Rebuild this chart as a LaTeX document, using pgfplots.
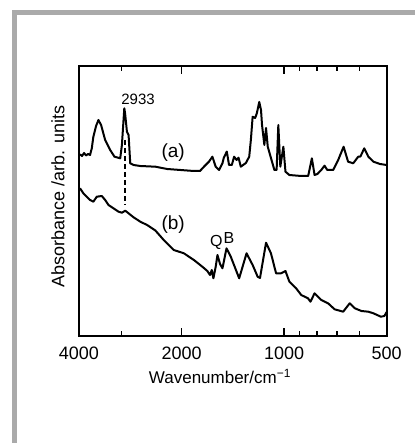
\documentclass[border=0pt]{standalone}
\usepackage{pgfplots}
\pgfplotsset{compat=1.18}
\usepackage{fontspec}
\setmainfont{Liberation Sans}
\definecolor{framegray}{RGB}{170,170,170}

\begin{document}
\begin{tikzpicture}
% page frame (1px = 1pt, origin at lower left of the axis box)
\path[use as bounding box] (-79pt,-107pt) rectangle (336pt,336pt);
\fill[framegray] (-67pt,-107pt) rectangle (-62pt,326pt);
\fill[framegray] (-67pt,326pt) rectangle (336pt,321pt);

\begin{axis}[
    scale only axis,
    width=307.7pt,
    height=270pt,
    xmode=log,
    x dir=reverse,
    xmin=500, xmax=4000,
    ymin=0, ymax=270,
    xtick={500,1000,2000,4000},
    xticklabels={500,1000,2000,4000},
    minor xtick={600,700,800,900,3000},
    ytick=\empty,
    major tick length=8pt,
    minor tick length=5pt,
    tick style={black, line width=1.5pt},
    axis line style={line width=1.8pt},
    xticklabel style={font=\fontsize{18}{20}\selectfont, anchor=center, yshift=-17.5pt},
    xlabel={Wavenumber/cm\textsuperscript{−1}},
    xlabel style={font=\fontsize{17}{20}\selectfont,
        at={([yshift=-40.7pt]axis description cs:0.458,0)}, anchor=center},
    ylabel={Absorbance /arb. units},
    ylabel style={font=\fontsize{18}{20}\selectfont,
        at={([xshift=-21pt]axis description cs:0,0.517)}, anchor=center},
]

% (a)
\addplot[black, line width=2pt, mark=none, line join=round] coordinates {
    (3973,181.7) (3919,180) (3866,183) (3814,180.5) (3763,182) (3712,181)
    (3669,187.7) (3630,199.3) (3564,210) (3508,216) (3445,211) (3352,196)
    (3240,186) (3147,179.3) (3027,177.7) (2993,191) (2945,227.7) (2930,223)
    (2893,204.3) (2861,201) (2829,172.7) (2766,171) (2643,170) (2387,169.3)
    (2204,167) (2014,166) (1840,165) (1766,165) (1719,169.3) (1662,174.3)
    (1624,179.3) (1588,169.3) (1552,166) (1517,172.7) (1504,178) (1473,184.5)
    (1451,171) (1424,171) (1402,179.3) (1379,176) (1361,178.3) (1340,169.3)
    (1295,173) (1266,179.3) (1252,196) (1237,219.3) (1216,218) (1202,223)
    (1183,234) (1169,226) (1161,211) (1143,191) (1130,208) (1117,189.3)
    (1093,178) (1068,166) (1052,166) (1040,211) (1026,169.3) (1005,189.3)
    (991,164.3) (965,161) (891,160) (850,160) (829,177.7) (814,161)
    (799,162) (778,166) (761,170.3) (747,166) (718,166) (694,176)
    (669,189.3) (649,174.3) (627,172.7) (606,179.3) (597,179.5) (582,187.7)
    (566,179.3) (547,174.3) (523,172) (500,171)
};

% (b)
\addplot[black, line width=2pt, mark=none, line join=round] coordinates {
    (3973,147.7) (3885,142.7) (3796,139.3) (3712,136) (3630,134.3) (3547,139.3)
    (3428,140) (3352,136) (3278,131) (3169,127.7) (3063,124.3) (2993,123.3)
    (2926,125.3) (2861,122.7) (2766,118.7) (2643,114.3) (2525,111) (2387,105.5)
    (2256,96) (2108,86) (1969,82.7) (1840,76) (1738,69.3) (1680,65)
    (1650,61) (1631,66) (1613,57.7) (1588,69.3) (1569,81) (1542,72)
    (1517,67.7) (1476,87.7) (1434,79.3) (1355,57.7) (1289,82.7) (1237,71)
    (1196,59.3) (1177,58) (1130,93.3) (1093,82.7) (1056,62.7) (1021,62.7)
    (991,65) (965,54.3) (922,47.7) (891,41) (851,37.7) (837,34.3)
    (814,42.7) (778,36) (743,32.7) (711,26.7) (671,24.3) (642,32.7)
    (620,27.7) (593,25) (566,24.3) (547,22.7) (520,19.3) (508,20) (500,24)
};

% marker of the 2933 band
\addplot[black, line width=1.4pt, dash pattern=on 5pt off 3pt, mark=none] coordinates {
    (2933,196) (2933,131)
};

\node[font=\fontsize{15}{16}\selectfont] at (axis cs:2684,237) {2933};
\node[font=\fontsize{19}{20}\selectfont] at (axis cs:2116,183.3) {(a)};
\node[font=\fontsize{19}{20}\selectfont] at (axis cs:2116,111) {(b)};
\node[font=\fontsize{16}{18}\selectfont] at (axis cs:1580,94) {Q};
\node[font=\fontsize{16}{18}\selectfont] at (axis cs:1451,98) {B};
\end{axis}
\end{tikzpicture}
\end{document}
